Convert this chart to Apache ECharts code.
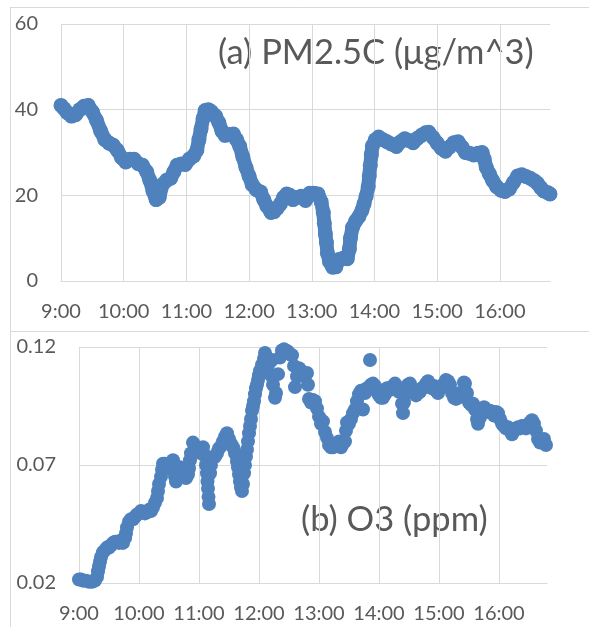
<!DOCTYPE html>
<html>
<head>
<meta charset="utf-8">
<title>PM2.5C and O3</title>
<script src="https://cdn.jsdelivr.net/npm/echarts@6/dist/echarts.min.js"></script>
<style>
	html, body { margin: 0; padding: 0; background: #fff; }
	#main { width: 589px; height: 627px; }
</style>
</head>
<body>
<div id="main"></div>
<script>
var hourLabels = ['9:00', '10:00', '11:00', '12:00', '13:00', '14:00', '15:00', '16:00'];

// minutes after 9:00
var pmMinutes = [0, 3, 6, 10, 14, 18, 22, 26, 30, 34, 38, 42, 46, 50, 54, 58, 62, 66, 70, 74,
	78, 82, 85, 88, 91, 94, 97, 101, 105, 108, 111, 115, 119, 123, 127, 130, 132, 134, 136, 138,
	141, 144, 148, 151, 154, 157, 161, 165, 168, 171, 174, 177, 180, 183, 187, 191, 194, 197, 201, 204,
	207, 210, 213, 216, 219, 222, 226, 230, 234, 238, 242, 246, 249, 251, 252, 253, 254, 255, 257, 260,
	263, 266, 270, 274, 276, 277, 279, 282, 285, 288, 290, 292, 294, 295, 296, 297, 298, 301, 304, 308,
	312, 316, 321, 325, 329, 333, 337, 341, 345, 349, 352, 356, 360, 364, 368, 372, 376, 380, 384, 387,
	391, 395, 399, 403, 405, 407, 410, 413, 417, 421, 425, 429, 433, 437, 441, 445, 449, 453, 456, 459,
	462, 466, 468];
var pmValues = [41.0, 40.2, 39.3, 38.5, 38.8, 40.0, 40.8, 41.0, 39.5, 37.5, 35.0, 33.0, 32.2, 31.7, 30.5, 28.8, 27.8, 28.4, 28.4, 27.4,
	27.0, 25.5, 23.5, 21.0, 19.0, 19.5, 22.5, 23.5, 24.0, 25.5, 27.0, 27.3, 27.2, 28.5, 29.2, 30.5, 33.0, 35.5, 38.0, 39.8,
	40.0, 39.5, 38.5, 37.0, 35.0, 34.0, 34.2, 34.3, 33.0, 31.5, 29.0, 26.5, 24.5, 22.5, 21.3, 20.8, 19.0, 17.5, 16.0, 16.2,
	17.0, 18.0, 19.5, 20.3, 20.0, 19.0, 19.5, 19.8, 18.8, 20.5, 20.5, 20.3, 18.5, 16.0, 13.5, 11.0, 9.0, 6.5, 4.5, 3.2,
	3.3, 5.0, 5.3, 5.2, 7.5, 10.0, 12.5, 14.0, 15.0, 16.5, 18.0, 19.8, 22.0, 24.5, 27.0, 29.5, 31.5, 33.0, 33.6, 33.0,
	32.5, 32.0, 31.4, 32.5, 33.2, 32.8, 32.3, 33.3, 34.0, 34.6, 34.7, 33.5, 32.2, 31.0, 30.3, 31.3, 32.3, 32.5, 31.2, 30.0,
	29.8, 29.4, 29.8, 30.0, 28.5, 26.5, 25.0, 23.5, 22.0, 21.2, 20.9, 21.5, 23.0, 24.5, 24.8, 24.4, 24.0, 23.4, 22.8, 21.8,
	21.0, 20.6, 20.3];

var o3Minutes = [0, 2, 4, 7, 10, 13, 16, 18, 19, 20, 21, 22, 24, 26, 28, 30, 32, 34, 36, 38,
	40, 42, 44, 46, 47, 48, 50, 52, 54, 56, 58, 60, 62, 64, 66, 68, 70, 72, 74, 76,
	78, 79, 80, 82, 83, 84, 86, 88, 90, 92, 94, 96, 97, 99, 101, 103, 105, 107, 109, 110,
	111, 112, 114, 116, 118, 120, 122, 124, 126, 127, 128, 128.5, 129, 129.5, 130, 131, 132, 134, 136, 138,
	140, 142, 144, 146, 148, 150, 152, 154, 156, 158, 159, 160, 161, 162, 163, 164, 165, 166, 167, 168,
	169, 170, 171, 172, 173, 174, 175, 176, 177, 178, 179, 180, 181, 183, 185, 186, 188, 190, 192, 193,
	194, 196, 197, 199, 201, 203, 205, 207, 209, 211, 213, 215, 216, 218, 220, 222, 224, 226, 228, 229,
	230, 232, 234, 236, 238, 240, 242, 244, 246, 248, 250, 252, 254, 256, 258, 260, 262, 264, 266, 267,
	268, 270, 272, 274, 276, 278, 280, 282, 284, 286, 288, 290, 292, 294, 296, 298, 300, 302, 304, 306,
	308, 310, 312, 314, 316, 318, 320, 322, 323, 324, 325, 327, 329, 331, 333, 335, 337, 339, 341, 343,
	345, 347, 349, 351, 353, 355, 357, 359, 361, 363, 365, 367, 369, 371, 373, 375, 377, 379, 381, 383,
	385, 386, 388, 390, 392, 394, 396, 398, 399, 401, 403, 405, 407, 409, 411, 413, 415, 417, 419, 421,
	423, 425, 427, 429, 431, 433, 435, 437, 439, 441, 443, 445, 447, 449, 451, 453, 455, 457, 459, 461,
	463, 465, 467];
var o3Values = [0.0215, 0.0215, 0.021, 0.021, 0.0205, 0.0205, 0.021, 0.0225, 0.025, 0.027, 0.029, 0.031, 0.033, 0.034, 0.035, 0.035, 0.036, 0.037, 0.0375, 0.0375,
	0.037, 0.038, 0.037, 0.039, 0.041, 0.0435, 0.046, 0.047, 0.047, 0.048, 0.049, 0.0495, 0.0505, 0.050, 0.0495, 0.050, 0.051, 0.0505, 0.052, 0.054,
	0.056, 0.059, 0.062, 0.065, 0.068, 0.0705, 0.0705, 0.069, 0.0685, 0.071, 0.072, 0.065, 0.063, 0.0665, 0.069, 0.068, 0.066, 0.0645, 0.066, 0.0685,
	0.072, 0.075, 0.0795, 0.078, 0.077, 0.0765, 0.075, 0.0775, 0.074, 0.070, 0.0665, 0.063, 0.060, 0.0565, 0.0535, 0.0665, 0.070, 0.073, 0.0735, 0.075,
	0.077, 0.078, 0.080, 0.082, 0.0835, 0.081, 0.079, 0.0775, 0.075, 0.0715, 0.069, 0.066, 0.063, 0.0605, 0.059, 0.062, 0.0665, 0.070, 0.0735, 0.0765,
	0.080, 0.0835, 0.0865, 0.0895, 0.093, 0.095, 0.097, 0.100, 0.1025, 0.104, 0.106, 0.108, 0.110, 0.1125, 0.115, 0.1175, 0.1155, 0.113, 0.108, 0.1145,
	0.104, 0.0985, 0.1005, 0.1085, 0.1155, 0.1185, 0.119, 0.1185, 0.118, 0.117, 0.1165, 0.112, 0.103, 0.1075, 0.111, 0.110, 0.108, 0.1075, 0.109, 0.104,
	0.098, 0.0965, 0.0975, 0.097, 0.094, 0.0905, 0.0875, 0.0885, 0.084, 0.0815, 0.0785, 0.0775, 0.0775, 0.0785, 0.078, 0.080, 0.0775, 0.079, 0.080, 0.0845,
	0.088, 0.0875, 0.0895, 0.092, 0.0935, 0.097, 0.100, 0.1015, 0.0935, 0.1005, 0.1025, 0.1025, 0.104, 0.1045, 0.1035, 0.101, 0.0995, 0.0985, 0.0985, 0.100,
	0.1025, 0.1025, 0.102, 0.1035, 0.1045, 0.103, 0.101, 0.1015, 0.096, 0.092, 0.0965, 0.1005, 0.104, 0.1045, 0.1025, 0.1005, 0.0995, 0.1005, 0.101, 0.1025,
	0.103, 0.1045, 0.1055, 0.104, 0.1025, 0.1035, 0.1015, 0.1005, 0.1025, 0.1035, 0.1045, 0.106, 0.1055, 0.104, 0.1005, 0.0985, 0.098, 0.0985, 0.1005, 0.1005,
	0.105, 0.1045, 0.1005, 0.0965, 0.0955, 0.096, 0.0935, 0.0895, 0.0875, 0.090, 0.0925, 0.0945, 0.0935, 0.0925, 0.093, 0.0925, 0.091, 0.0925, 0.092, 0.0895,
	0.0875, 0.0865, 0.0855, 0.086, 0.0845, 0.083, 0.0845, 0.0855, 0.086, 0.0855, 0.0865, 0.0865, 0.0855, 0.0865, 0.088, 0.089, 0.0875, 0.0845, 0.081, 0.0795,
	0.080, 0.081, 0.0785];

var o3StrayMinutes = [291];
var o3StrayValues = [0.1145];

var plot = {
	blue: '#4f81bd',
	text: '#595959',
	grid: '#d9d9d9',
	font: 'Lato',

	init: function(){
		var myChart = echarts.init(document.getElementById('main'), null, {renderer: 'canvas'});
		myChart.setOption(plot.getOption());
	},
	pairs: function(xs, ys){
		var out = [];
		for (var i = 0; i < xs.length; i++) {
			out.push([xs[i], ys[i]]);
		}
		return out;
	},
	xAxis: function(gridIndex){
		return {
			type: 'value',
			gridIndex: gridIndex,
			min: 0,
			max: 468,
			interval: 60,
			axisLine: {show: true, lineStyle: {color: plot.grid, width: 1}},
			axisTick: {show: false},
			splitLine: {show: true, showMaxLine: false, lineStyle: {color: plot.grid, width: 1}},
			axisLabel: {
				color: plot.text, fontFamily: plot.font, fontSize: 20, margin: 21,
				showMaxLabel: false,
				formatter: function(v){
					return v % 60 === 0 ? hourLabels[v / 60] : '';
				}
			}
		};
	},
	yAxis: function(gridIndex, min, max, interval, digits){
		return {
			type: 'value',
			gridIndex: gridIndex,
			min: min,
			max: max,
			interval: interval,
			axisLine: {show: false},
			axisTick: {show: false},
			splitLine: {show: true, lineStyle: {color: plot.grid, width: 1}},
			axisLabel: {
				color: plot.text, fontFamily: plot.font, fontSize: 20, margin: 23,
				formatter: function(v){ return v.toFixed(digits); }
			}
		};
	},
	getOption: function(){
		var frame = {stroke: plot.grid, lineWidth: 1};
		option = {
			animation: false,
			backgroundColor: '#fff',
			grid: [
				{left: 61, top: 24, width: 489, height: 257},
				{left: 79, top: 347, width: 468, height: 236}
			],
			xAxis: [plot.xAxis(0), plot.xAxis(1)],
			yAxis: [plot.yAxis(0, 0, 60, 20, 0), plot.yAxis(1, 0.02, 0.12, 0.05, 2)],
			graphic: [
				{type: 'line', silent: true, shape: {x1: 10, y1: 7.5, x2: 589, y2: 7.5}, style: frame},
				{type: 'line', silent: true, shape: {x1: 10.5, y1: 7, x2: 10.5, y2: 627}, style: frame},
				{type: 'line', silent: true, shape: {x1: 10, y1: 331.5, x2: 589, y2: 331.5}, style: frame},
				{type: 'text', silent: true, left: 218, top: 35, style: {
					text: '(a) PM2.5C (\u03bcg/m^3)', fill: plot.text, font: '34.5px Lato'
				}},
				{type: 'text', silent: true, left: 301, top: 502, style: {
					text: '(b) O3 (ppm)', fill: plot.text, font: '34.5px Lato'
				}}
			],
			series: [
				{
					type: 'line',
					xAxisIndex: 0,
					yAxisIndex: 0,
					data: plot.pairs(pmMinutes, pmValues),
					symbol: 'circle',
					symbolSize: 15,
					showSymbol: true,
					itemStyle: {color: plot.blue},
					lineStyle: {color: plot.blue, width: 14, cap: 'round', join: 'round'},
					silent: true
				},
				{
					type: 'scatter',
					xAxisIndex: 1,
					yAxisIndex: 1,
					data: plot.pairs(o3Minutes, o3Values),
					symbol: 'circle',
					symbolSize: 14,
					itemStyle: {color: plot.blue, opacity: 1},
					silent: true
				},
				{
					type: 'scatter',
					xAxisIndex: 1,
					yAxisIndex: 1,
					data: plot.pairs(o3StrayMinutes, o3StrayValues),
					symbol: 'circle',
					symbolSize: 14,
					itemStyle: {color: plot.blue, opacity: 1},
					silent: true
				}
			]
		};
		return option;
	}
};

plot.init();
</script>
</body>
</html>
